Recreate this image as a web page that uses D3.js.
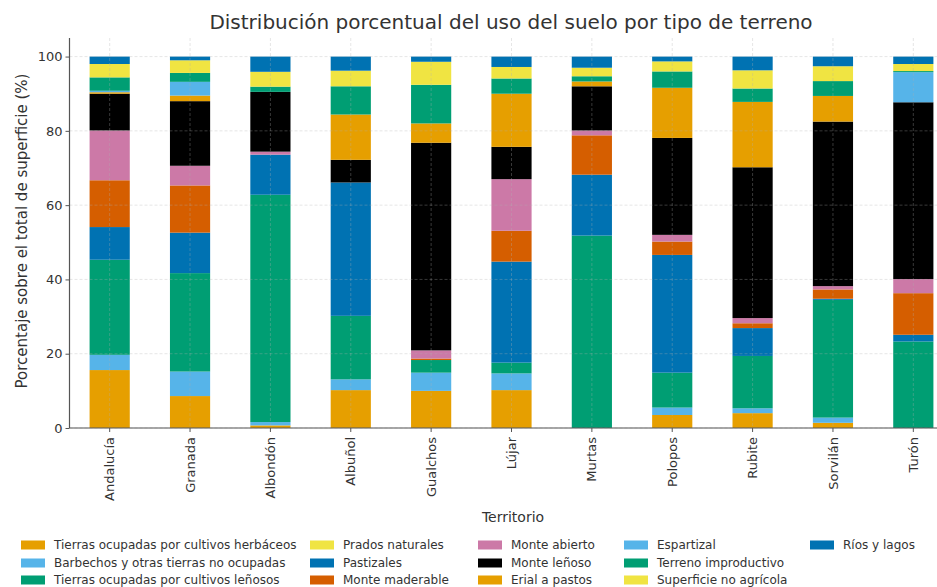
<!DOCTYPE html>
<html><head><meta charset="utf-8">
<script src="https://cdn.jsdelivr.net/npm/d3@7"></script>
<style>body{margin:0;background:#fff;} svg{display:block;}</style>
</head><body>
<svg id="c" width="937" height="587"></svg>
<script>
const categories = ["Andalucía","Granada","Albondón","Albuñol","Gualchos","Lújar","Murtas","Polopos","Rubite","Sorvilán","Turón"];
const seriesNames = ["Tierras ocupadas por cultivos herbáceos","Barbechos y otras tierras no ocupadas","Tierras ocupadas por cultivos leñosos","Prados naturales","Pastizales","Monte maderable","Monte abierto","Monte leñoso","Erial a pastos","Espartizal","Terreno improductivo","Superficie no agrícola","Ríos y lagos"];
const herbaceos    = [15.6, 8.6, 0.7, 10.2, 10.0, 10.2, 0, 3.5, 4.0, 1.4, 0];
const barbechos    = [4.1, 6.6, 0.9, 2.9, 4.9, 4.5, 0, 2.0, 1.3, 1.4, 0];
const lenosos      = [25.6, 26.5, 61.2, 17.1, 3.4, 2.9, 51.8, 9.4, 14.1, 31.7, 23.3];
const prados       = [0, 0, 0, 0, 0, 0, 0, 0, 0, 0, 0];
const pastizales   = [8.8, 10.9, 10.8, 35.9, 0, 27.2, 16.4, 31.7, 7.5, 0.3, 1.8];
const maderable    = [12.6, 12.7, 0, 0, 0.4, 8.3, 10.6, 3.6, 1.3, 2.5, 11.2];
const abierto      = [13.4, 5.3, 0.8, 0, 2.2, 13.9, 1.3, 1.8, 1.4, 0.9, 3.8];
const monteLenoso  = [9.9, 17.4, 16.1, 6.1, 55.9, 8.7, 11.9, 26.1, 40.6, 44.3, 47.6];
const erial        = [0.4, 1.5, 0, 12.2, 5.2, 14.3, 1.3, 13.5, 17.6, 6.9, 0];
const espartizal   = [0.4, 3.7, 0, 0, 0, 0, 0, 0, 0, 0, 8.1];
const improductivo = [3.6, 2.4, 1.4, 7.6, 10.4, 4.1, 1.4, 4.4, 3.6, 4.0, 0.3];
const noAgricola   = [3.6, 3.4, 4.0, 4.2, 6.2, 3.1, 2.3, 2.7, 4.9, 4.0, 1.9];
const rios         = [2.0, 1.0, 4.1, 3.8, 1.4, 2.8, 3.0, 1.3, 3.7, 2.6, 2.0];
const yTicks = [0, 20, 40, 60, 80, 100];
const colors = ["#E69F00","#56B4E9","#009E73","#F0E442","#0072B2","#D55E00","#CC79A7","#000000","#E69F00","#56B4E9","#009E73","#F0E442","#0072B2"];

const seriesValues = [herbaceos, barbechos, lenosos, prados, pastizales, maderable, abierto, monteLenoso, erial, espartizal, improductivo, noAgricola, rios];
const table = categories.map((c, i) => {
  const row = {cat: c};
  seriesNames.forEach((s, j) => row[s] = seriesValues[j][i]);
  return row;
});
const stacked = d3.stack().keys(seriesNames)(table);

const svg = d3.select("#c");
svg.append("rect").attr("width", 937).attr("height", 587).attr("fill", "#fff");
const L = 69.5, R = 953.5, T = 38, B = 428;
const x = d3.scaleBand().domain(categories).range([L, R]).paddingInner(0.5).paddingOuter(0.25);
const y = d3.scaleLinear().domain([0, 105]).range([B, T]);
const font = "DejaVu Sans, sans-serif";

// bars
const g = svg.append("g");
stacked.forEach((s, j) => {
  g.selectAll(null).data(s).enter().append("rect")
    .attr("x", d => x(d.data.cat))
    .attr("width", x.bandwidth())
    .attr("y", d => y(d[1]))
    .attr("height", d => Math.max(0, y(d[0]) - y(d[1])))
    .attr("fill", colors[j]);
});

// grid on top
const grid = svg.append("g").attr("stroke", "#b0b0b0").attr("stroke-opacity", 0.4).attr("stroke-width", 0.8).attr("stroke-dasharray", "3,2");
grid.selectAll(null).data(yTicks).enter().append("line")
  .attr("x1", L).attr("x2", 937).attr("y1", d => y(d)).attr("y2", d => y(d));
grid.selectAll(null).data(categories).enter().append("line")
  .attr("x1", d => x(d) + x.bandwidth()/2).attr("x2", d => x(d) + x.bandwidth()/2)
  .attr("y1", T).attr("y2", B);

// axes
const yAxis = d3.axisLeft(y).tickValues(yTicks).tickSize(4).tickPadding(3);
const ya = svg.append("g").attr("transform", `translate(${L},0)`).call(yAxis);
ya.select(".domain").remove();
ya.selectAll("line").attr("stroke", "#555");
ya.selectAll("text").attr("font-family", font).attr("font-size", 13).attr("fill", "#333");
svg.append("line").attr("x1", L).attr("x2", L).attr("y1", T).attr("y2", B).attr("stroke", "#555").attr("stroke-width", 1.2);

const xAxis = d3.axisBottom(x).tickSize(4).tickPadding(3);
const xa = svg.append("g").attr("transform", `translate(0,${B})`).call(xAxis);
xa.select(".domain").remove();
xa.selectAll("line").attr("stroke", "#555");
xa.selectAll("text").attr("font-family", font).attr("font-size", 13).attr("fill", "#333")
  .attr("transform", "rotate(-90)").attr("text-anchor", "end").attr("dy", "0.35em").attr("x", -9).attr("y", 0);
svg.append("line").attr("x1", L).attr("x2", 937).attr("y1", B).attr("y2", B).attr("stroke", "#555").attr("stroke-width", 1.2);

// title and labels
svg.append("text").attr("x", 511).attr("y", 29).attr("text-anchor", "middle")
  .attr("font-family", font).attr("font-size", 20).attr("fill", "#333")
  .text("Distribución porcentual del uso del suelo por tipo de terreno");
svg.append("text").attr("transform", `translate(27,231) rotate(-90)`).attr("text-anchor", "middle")
  .attr("font-family", font).attr("font-size", 15).attr("fill", "#333")
  .text("Porcentaje sobre el total de superficie (%)");
svg.append("text").attr("x", 513).attr("y", 522).attr("text-anchor", "middle")
  .attr("font-family", font).attr("font-size", 14).attr("fill", "#333")
  .text("Territorio");

// legend
const colX = [21, 310, 478, 624, 810];
const rowY = [545, 563, 580];
const lg = svg.append("g");
seriesNames.forEach((s, i) => {
  const c = Math.floor(i / 3), r = i % 3;
  const gi = lg.append("g").attr("transform", `translate(${colX[c]},${rowY[r]})`);
  gi.append("rect").attr("x", 0).attr("y", -4.5).attr("width", 24).attr("height", 9).attr("fill", colors[i]);
  gi.append("text").attr("x", 33).attr("y", 0).attr("dy", "0.35em")
    .attr("font-family", font).attr("font-size", 12).attr("fill", "#333").text(s);
});
</script>
</body></html>
